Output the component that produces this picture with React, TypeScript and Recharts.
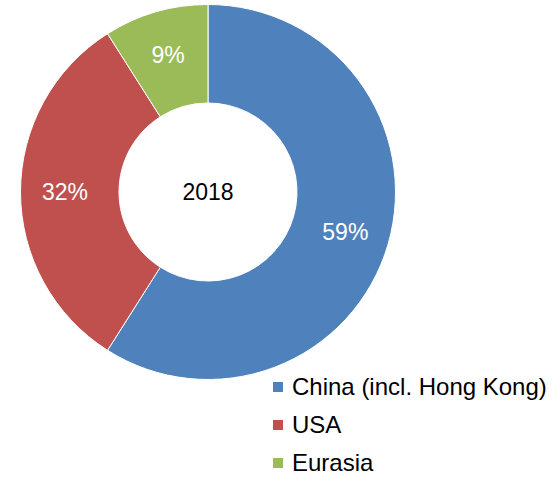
import React from "react";
import { PieChart, Pie, Cell, Legend } from "recharts";

const categories = ["China (incl. Hong Kong)", "USA", "Eurasia"];
const shares = [59, 32, 9];
const colors = ["#4F81BD", "#C0504D", "#9BBB59"];
const centerLabel = "2018";

const data = categories.map((name, i) => ({ name, value: shares[i] }));

const FONT = "'Liberation Sans', Arial, sans-serif";
const RAD = Math.PI / 180;

const renderLabel = (props: any) => {
  const { cx, cy, midAngle, value, index } = props;
  const r = 143;
  const x = cx + r * Math.cos(-midAngle * RAD);
  const y = cy + r * Math.sin(-midAngle * RAD);
  return (
    <g>
      <text
        x={x}
        y={y}
        fill="#ffffff"
        fontSize={23}
        fontFamily={FONT}
        textAnchor="middle"
        dominantBaseline="central"
      >
        {`${value}%`}
      </text>
      {index === 0 ? (
        <text
          x={cx}
          y={cy}
          fill="#000000"
          fontSize={23}
          fontFamily={FONT}
          textAnchor="middle"
          dominantBaseline="central"
        >
          {centerLabel}
        </text>
      ) : null}
    </g>
  );
};

const renderLegend = (props: any) => {
  const payload = [...(props.payload || [])].sort(
    (a: any, b: any) => categories.indexOf(a.value) - categories.indexOf(b.value)
  );
  return (
    <div style={{ fontFamily: FONT, fontSize: 24, color: "#000" }}>
      {payload.map((entry: any, i: number) => (
        <div
          key={i}
          style={{ display: "flex", alignItems: "center", height: 38, whiteSpace: "nowrap" }}
        >
          <span
            style={{
              display: "inline-block",
              width: 10,
              height: 10,
              background: entry.color,
              marginRight: 9,
            }}
          />
          <span>{entry.value}</span>
        </div>
      ))}
    </div>
  );
};

export default function App() {
  return (
    <div style={{ position: "absolute", left: 0, top: 0, background: "#fff" }}>
      <PieChart width={554} height={478} margin={{ top: 0, right: 0, bottom: 0, left: 0 }}>
        <Pie
          data={data}
          dataKey="value"
          nameKey="name"
          cx={208}
          cy={192}
          innerRadius={89}
          outerRadius={187.5}
          startAngle={90}
          endAngle={-270}
          stroke="#ffffff"
          strokeWidth={1}
          label={renderLabel}
          labelLine={false}
          isAnimationActive={false}
        >
          {data.map((d, i) => (
            <Cell key={d.name} fill={colors[i]} />
          ))}
        </Pie>
        <Legend
          content={renderLegend}
          layout="vertical"
          itemSorter={null as any}
          wrapperStyle={{ position: "absolute", left: 273, top: 368, width: 281 }}
        />
      </PieChart>
    </div>
  );
}
